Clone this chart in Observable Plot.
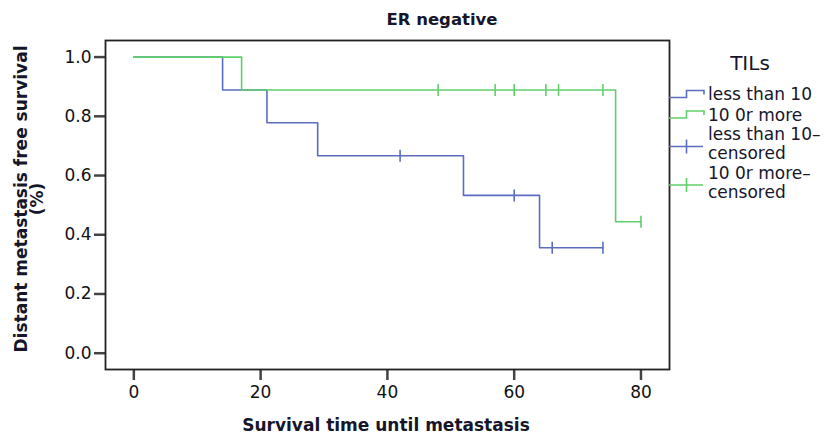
<!DOCTYPE html>
<html>
<head>
<meta charset="utf-8">
<script src="https://cdn.jsdelivr.net/npm/d3@7"></script>
<script src="https://cdn.jsdelivr.net/npm/@observablehq/plot@0.6"></script>
<style>
  html, body { margin: 0; padding: 0; background: #fff; }
  svg { display: block; }
</style>
</head>
<body>
<div id="chart"></div>
<script>
// ---- data ----
const title = "ER negative";
const xLabel = "Survival time until metastasis";
const yLabelLines = ["Distant metastasis free survival", "(%)"];
const legendTitle = "TILs";
const seriesNames = ["less than 10", "10 0r more"];
const censoredNames = [["less than 10–", "censored"], ["10 0r more–", "censored"]];

const xTicks = [0, 20, 40, 60, 80];
const yTicks = [0, 0.2, 0.4, 0.6, 0.8, 1.0];

// step curves: time of each step and survival value after it
const lessTimes = [0, 14, 21, 29, 52, 64, 74];
const lessSurv  = [1.0, 0.889, 0.778, 0.667, 0.533, 0.356, 0.356];
const moreTimes = [0, 17, 76, 80];
const moreSurv  = [1.0, 0.889, 0.444, 0.444];

// censored observations
const lessCensTimes = [42, 60, 66, 74];
const lessCensSurv  = [0.667, 0.533, 0.356, 0.356];
const moreCensTimes = [48, 57, 60, 65, 67, 74, 80];
const moreCensSurv  = [0.889, 0.889, 0.889, 0.889, 0.889, 0.889, 0.444];

const colors = ["#5a6dbf", "#5fcf6c"];

// ---- build tables ----
const zip = (xs, ys) => xs.map((x, i) => ({x, y: ys[i]}));
const lessLine = zip(lessTimes, lessSurv);
const moreLine = zip(moreTimes, moreSurv);
const lessCens = zip(lessCensTimes, lessCensSurv);
const moreCens = zip(moreCensTimes, moreCensSurv);

const vTick = {
  draw(context, size) {
    const r = Math.sqrt(size / Math.PI);
    context.moveTo(0, -r);
    context.lineTo(0, r);
  }
};

const font = "DejaVu Sans";

const plot = Plot.plot({
  width: 825,
  height: 434,
  marginLeft: 105,
  marginRight: 156,
  marginTop: 40,
  marginBottom: 65,
  style: {fontFamily: font, background: "#fff", overflow: "visible"},
  x: {domain: [-4.47, 84.5]},
  y: {domain: [-0.055, 1.056]},
  marks: [
    Plot.axisX({ticks: xTicks, tickSize: 11, tickPadding: 5, fontSize: 17, strokeWidth: 2.5, stroke: "#444", color: "#111", label: null}),
    Plot.axisY({ticks: yTicks, tickSize: 11, tickPadding: 3, fontSize: 17, strokeWidth: 2.5, stroke: "#444", color: "#111", tickFormat: d3.format(".1f"), label: null}),
    Plot.line(lessLine, {x: "x", y: "y", curve: "step-after", stroke: colors[0], strokeWidth: 1.6}),
    Plot.line(moreLine, {x: "x", y: "y", curve: "step-after", stroke: colors[1], strokeWidth: 1.6}),
    Plot.dot(lessCens, {x: "x", y: "y", symbol: vTick, r: 6, stroke: colors[0], fill: "none", strokeWidth: 1.6}),
    Plot.dot(moreCens, {x: "x", y: "y", symbol: vTick, r: 6, stroke: colors[1], fill: "none", strokeWidth: 1.6}),
    Plot.frame({stroke: "#222", strokeWidth: 1.8})
  ]
});

const svg = d3.select(plot);
const ink = "#16162a";

// title
svg.append("text").attr("x", 442).attr("y", 25).attr("text-anchor", "middle")
  .attr("font-family", font).attr("font-weight", "bold").attr("font-size", 16.5).attr("fill", ink).text(title);

// x label
svg.append("text").attr("x", 386).attr("y", 431).attr("text-anchor", "middle")
  .attr("font-family", font).attr("font-weight", "bold").attr("font-size", 17).attr("fill", ink).text(xLabel);

// y label (two lines, rotated)
const yl = svg.append("text").attr("transform", "translate(27,199) rotate(-90)").attr("text-anchor", "middle")
  .attr("font-family", font).attr("font-weight", "bold").attr("font-size", 17).attr("fill", ink);
yl.append("tspan").attr("x", 0).attr("y", 0).text(yLabelLines[0]);
yl.append("tspan").attr("x", 0).attr("y", 16).text(yLabelLines[1]);

// legend
const lg = svg.append("g").attr("font-family", font).attr("fill", ink).attr("text-anchor", "start");
lg.append("text").attr("x", 750).attr("y", 70).attr("text-anchor", "middle").attr("font-size", 20).text(legendTitle);

const stepY = [97.5, 118];
seriesNames.forEach((name, i) => {
  const y0 = stepY[i];
  lg.append("path").attr("d", `M669,${y0}H686.5V${y0 - 7}H704V${y0 - 3}`)
    .attr("fill", "none").attr("stroke", colors[i]).attr("stroke-width", 1.6);
  lg.append("text").attr("x", 708).attr("y", y0 + 2.5).attr("font-size", 17).text(name);
});

const censY = [146.5, 185];
censoredNames.forEach((lines, i) => {
  const y0 = censY[i];
  lg.append("path").attr("d", `M669,${y0}H703M686.5,${y0 - 7}V${y0 + 7}`)
    .attr("fill", "none").attr("stroke", colors[i]).attr("stroke-width", 1.6);
  lg.append("text").attr("x", 708).attr("y", y0 - 6.5).attr("font-size", 17).text(lines[0]);
  lg.append("text").attr("x", 708).attr("y", y0 + 12.5).attr("font-size", 17).text(lines[1]);
});

document.getElementById("chart").appendChild(plot);
</script>
</body>
</html>
